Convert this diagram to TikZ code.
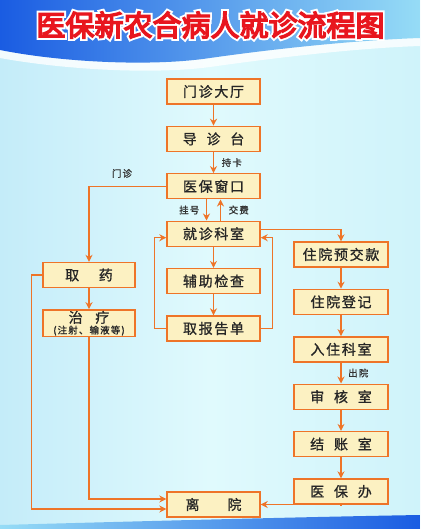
\documentclass[tikz,border=0pt]{standalone}
\usepackage{fontspec}
\newfontfamily\boxfont{Noto Sans CJK SC}[FakeBold=1.1, LetterSpace=12]
\newfontfamily\titlefont{Noto Sans CJK SC}[FakeBold=5]
\newfontfamily\titleedge{Noto Sans CJK SC}[FakeBold=18]
\usepackage{xcolor}
\usetikzlibrary{arrows.meta, positioning, calc}
\definecolor{bgleft}{HTML}{C4ECF9}
\definecolor{bgmid}{HTML}{E0FAFD}
\definecolor{bgright}{HTML}{CFF3FA}
\definecolor{topdeep}{HTML}{1A5CE2}
\definecolor{toplight}{HTML}{96DCF6}
\definecolor{boxfill}{HTML}{FCF1C2}
\definecolor{boxline}{HTML}{EE7428}
\definecolor{titlered}{HTML}{E8161E}
\tikzset{
  box/.style={rectangle, draw=boxline, line width=1.4pt, fill=boxfill,
              font=\boxfont\fontsize{14}{16}\selectfont, text=black!85,
              minimum width=93pt, minimum height=25pt, inner sep=1pt, align=center},
  arr/.style={-{Stealth[length=7pt,width=7pt]}, line width=1.3pt, boxline},
  lbl/.style={font=\boxfont\fontsize{9.5}{10}\selectfont, text=black!80, inner sep=1pt},
}
\begin{document}
\begin{tikzpicture}[x=1pt, y=-1pt, node distance=21pt]
  \useasboundingbox (0,0) rectangle (420,529);
  %% background
  \shade[left color=bgleft, right color=bgright, middle color=bgmid] (0,0) rectangle (420,529);
  \fill[white, opacity=.8] (0,0) -- (420,0) -- (420,46)
    .. controls (360,48) and (280,57) .. (210,67)
    .. controls (150,75) and (60,69) .. (0,58) -- cycle;
  \shade[left color=topdeep, right color=toplight] (0,0) -- (420,0) -- (420,38)
    .. controls (360,40) and (280,48) .. (210,58)
    .. controls (150,67) and (60,62) .. (0,50) -- cycle;
  \shade[left color=toplight, right color=topdeep] (0,529) -- (0,525)
    .. controls (150,521) and (300,517) .. (420,515) -- (420,529) -- cycle;
  %% title
  \node[font=\titleedge\fontsize{29}{30}\selectfont, text=white] (titlebg) at (210.5,25) {医保新农合病人就诊流程图};
  \node[font=\titlefont\fontsize{29}{30}\selectfont, text=titlered] (title) at (210.5,25) {医保新农合病人就诊流程图};
  %% middle column
  \node[box] (hall) at (213.5,91.5) {门诊大厅};
  \node[box, below=of hall]   (guide)  {导\hspace{0.7em}诊\hspace{0.7em}台};
  \node[box, below=of guide]  (window) {医保窗口};
  \node[box, below=of window] (dept)   {就诊科室};
  \node[box, below=of dept]   (exam)   {辅助检查};
  \node[box, below=of exam]   (report) {取报告单};
  %% outpatient
  \node[box, minimum width=92pt] (drug) at (89,275) {取\hspace{1.4em}药};
  \node[box, minimum width=92pt, below=of drug] (treat)
    {治\hspace{0.9em}疗\\[-5pt]{\fontsize{9.5}{9}\selectfont (注射、输液等)}};
  %% inpatient
  \node[box, minimum width=94pt] (deposit) at (341,254.5) {住院预交款};
  \node[box, minimum width=94pt, below=of deposit]  (register) {住院登记};
  \node[box, minimum width=94pt, below=of register] (ward)     {入住科室};
  \node[box, minimum width=94pt, below=of ward]     (audit)    {审\hspace{0.7em}核\hspace{0.7em}室};
  \node[box, minimum width=94pt, below=of audit]    (settle)   {结\hspace{0.7em}账\hspace{0.7em}室};
  \node[box, minimum width=94pt, below=of settle]   (insur)    {医\hspace{0.7em}保\hspace{0.7em}办};
  \node[box] (leave) at (213.5,504.5) {离\hspace{2em}院};
  %% connectors
  \foreach \a/\b in {hall/guide,guide/window,dept/exam,exam/report,drug/treat,
                     deposit/register,register/ward,ward/audit,audit/settle,settle/insur}
    \draw[arr] (\a) -- (\b);
  \draw[arr] ($(window.south)+(-7,0)$) -- ($(dept.north)+(-7,0)$);
  \draw[arr] ($(dept.north)+(7,0)$) -- ($(window.south)+(7,0)$);
  \draw[arr] (window.west) -| (drug.north);
  \draw[arr] ($(dept.east)+(0,-4)$) -| (deposit.north);
  \draw[arr] (report.west) -- ++(-12,0) |- ($(dept.west)+(0,4)$);
  \draw[arr] (report.east) -- ++(12,0) |- ($(dept.east)+(0,4)$);
  \draw[arr] (drug.west) -- ++(-11,0) |- ($(leave.west)+(0,4.5)$);
  \draw[arr] (treat.south) |- ($(leave.west)+(0,-5.5)$);
  \draw[arr] (insur.south) |- (leave.east);
  %% labels
  \node[lbl, anchor=west] (lblcard) at ($(guide.south)!.5!(window.north)+(7,0)$) {持卡};
  \node[lbl, anchor=east] (lblreg)  at ($(window.south)!.5!(dept.north)+(-13,0)$) {挂号};
  \node[lbl, anchor=west] (lblpay)  at ($(window.south)!.5!(dept.north)+(14,0)$) {交费};
  \node[lbl, anchor=south] (lblout) at (122,179) {门诊};
  \node[lbl, anchor=west] (lbldisch) at ($(ward.south)!.5!(audit.north)+(6,0)$) {出院};
\end{tikzpicture}
\end{document}
